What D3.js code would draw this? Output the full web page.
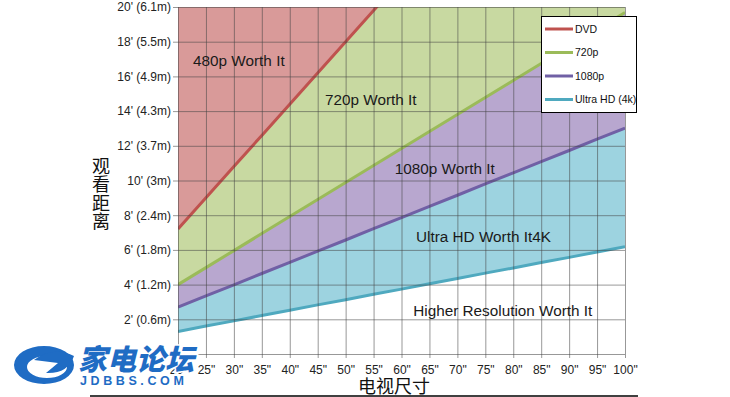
<!DOCTYPE html>
<html>
<head>
<meta charset="utf-8">
<script src="https://cdn.jsdelivr.net/npm/d3@7"></script>
<style>
  html, body { margin: 0; padding: 0; background: #fff; }
  svg { display: block; }
</style>
</head>
<body>
<svg id="chart" width="730" height="397"></svg>
<script>
// screen size (inches) along the bottom
const sizes = [20, 25, 30, 35, 40, 45, 50, 55, 60, 65, 70, 75, 80, 85, 90, 95, 100];
// viewing distance (feet) where each resolution stops being worth it
const dvd = [7.2, 9.0, 10.8, 12.6, 14.4, 16.2, 18.0, 19.8, 21.6, null, null, null, null, null, null, null, null];
const p720 = [4.0, 4.98, 5.96, 6.94, 7.92, 8.9, 9.88, 10.86, 11.84, 12.82, 13.8, 14.78, 15.76, 16.74, 17.72, 18.7, 19.68];
const p1080 = [2.7, 3.35, 3.99, 4.64, 5.28, 5.93, 6.57, 7.22, 7.86, 8.51, 9.15, 9.8, 10.44, 11.09, 11.73, 12.38, 13.02];
const uhd = [1.3, 1.61, 1.91, 2.22, 2.52, 2.83, 3.13, 3.44, 3.74, 4.05, 4.35, 4.66, 4.96, 5.27, 5.57, 5.88, 6.18];

const yTicks = [0, 2, 4, 6, 8, 10, 12, 14, 16, 18, 20];
const yLabels = ["", "2' (0.6m)", "4' (1.2m)", "6' (1.8m)", "8' (2.4m)", "10' (3m)",
  "12' (3.7m)", "14' (4.3m)", "16' (4.9m)", "18' (5.5m)", "20' (6.1m)"];
const legendNames = ["DVD", "720p", "1080p", "Ultra HD (4k)"];

// region captions: [text, inch, feet]
const regionLabels = [
  ["480p Worth It", 22.7, 16.6],
  ["720p Worth It", 46.3, 14.35],
  ["1080p Worth It", 58.8, 10.37],
  ["Ultra HD Worth It4K", 62.6, 6.46],
  ["Higher Resolution Worth It", 62.1, 2.19]
];

const plotL = 178, plotR = 625, plotT = 7, plotB = 354;
const svg = d3.select("#chart");

const x = d3.scaleLinear().domain([20, 100]).range([plotL, plotR]);
const y = d3.scaleLinear().domain([0, 20]).range([plotB, plotT]);

const rows = sizes.map((s, i) => ({
  s, dvd: dvd[i], p720: p720[i], p1080: p1080[i], uhd: uhd[i]
}));

svg.append("defs").append("clipPath").attr("id", "plot")
  .append("rect")
  .attr("x", plotL).attr("y", plotT)
  .attr("width", plotR - plotL).attr("height", plotB - plotT);

const plot = svg.append("g").attr("clip-path", "url(#plot)");

// filled bands, top to bottom
const bands = [
  { lo: "dvd", hi: null, fill: "#d99a99" },
  { lo: "p720", hi: "dvd", fill: "#c8d9a1" },
  { lo: "p1080", hi: "p720", fill: "#b8a7cf" },
  { lo: "uhd", hi: "p1080", fill: "#9dd3e0" }
];
bands.forEach(b => {
  const area = d3.area()
    .x(d => x(d.s))
    .y0(d => y(d[b.lo] == null ? 20 : d[b.lo]))
    .y1(d => y(b.hi == null || d[b.hi] == null ? 20 : d[b.hi]));
  plot.append("path").datum(rows).attr("d", area).attr("fill", b.fill);
});

// grid + y labels (axis drawn from right edge so ticks span the plot)
const yAxis = d3.axisLeft(y)
  .tickValues(yTicks)
  .tickSize(plotR - plotL + 5)
  .tickPadding(2)
  .tickFormat((d, i) => yLabels[i]);
const gy = svg.append("g").attr("transform", `translate(${plotR},0)`).call(yAxis);
gy.select(".domain").remove();
gy.selectAll("line").attr("stroke", "#444").attr("stroke-opacity", 0.55);
gy.selectAll("text")
  .attr("font-family", "'Liberation Sans', Arial, sans-serif")
  .attr("font-size", 12).attr("fill", "#222");

const xAxis = d3.axisBottom(x)
  .tickValues(sizes)
  .tickSize(plotB - plotT + 4)
  .tickPadding(7)
  .tickFormat(d => d + '"');
const gx = svg.append("g").attr("transform", `translate(0,${plotT})`).call(xAxis);
gx.select(".domain").remove();
gx.selectAll("line").attr("stroke", "#444").attr("stroke-opacity", 0.55);
gx.selectAll("text")
  .attr("font-family", "'Liberation Sans', Arial, sans-serif")
  .attr("font-size", 12).attr("fill", "#222");

// boundary lines
const lineDefs = [
  { key: "dvd", color: "#bf524e" },
  { key: "p720", color: "#9bbb59" },
  { key: "p1080", color: "#7060a5" },
  { key: "uhd", color: "#4fa9bf" }
];
lineDefs.forEach(l => {
  const line = d3.line()
    .defined(d => d[l.key] != null)
    .x(d => x(d.s)).y(d => y(d[l.key]));
  plot.append("path").datum(rows).attr("d", line)
    .attr("fill", "none").attr("stroke", l.color).attr("stroke-width", 3);
});

// captions inside the bands
svg.append("g").selectAll("text").data(regionLabels).join("text")
  .attr("x", d => x(d[1])).attr("y", d => y(d[2]))
  .attr("font-family", "'Liberation Sans', Arial, sans-serif")
  .attr("font-size", 15.3).attr("fill", "#1a1a1a")
  .text(d => d[0]);

// legend
const lg = svg.append("g").attr("transform", "translate(541,16)");
lg.append("rect").attr("x", 0.5).attr("y", 0.5).attr("width", 95).attr("height", 96)
  .attr("fill", "#fff").attr("stroke", "#000");
legendNames.forEach((name, i) => {
  const yy = 13 + i * 23.5;
  lg.append("line").attr("x1", 4).attr("x2", 32).attr("y1", yy).attr("y2", yy)
    .attr("stroke", lineDefs[i].color).attr("stroke-width", 3);
  lg.append("text").attr("x", 34).attr("y", yy).attr("dy", "0.35em")
    .attr("font-family", "'Liberation Sans', Arial, sans-serif")
    .attr("font-size", 10.5).attr("fill", "#111").text(name);
});

// axis titles
const cjk = "'Noto Sans CJK SC', sans-serif";
svg.append("text").attr("x", 101).attr("y", 157)
  .attr("writing-mode", "vertical-rl")
  .style("writing-mode", "vertical-rl")
  .attr("letter-spacing", 0.5)
  .attr("font-family", cjk)
  .attr("font-size", 18).attr("fill", "#111").text("观看距离");
svg.append("text").attr("x", 394).attr("y", 393)
  .attr("text-anchor", "middle").attr("font-family", cjk)
  .attr("font-size", 18).attr("fill", "#111").text("电视尺寸");
svg.append("line").attr("x1", 90).attr("x2", 638).attr("y1", 396).attr("y2", 396)
  .attr("stroke", "#000").attr("stroke-width", 1.5);

// watermark
const blue = "#1f6cc4";
const wm = svg.append("g");
wm.append("path")
  .attr("d", "M14,365 a30,19 0 1,0 60,0 a30,19 0 1,0 -60,0 Z M27,367 a20,11 0 1,0 40,0 a20,11 0 1,0 -40,0 Z")
  .attr("fill", blue).attr("fill-rule", "evenodd")
  .attr("stroke", "#fff").attr("stroke-width", 2).attr("paint-order", "stroke");
wm.append("path")
  .attr("d", "M34,360 Q52,346 74,356 Q68,374 46,373 L58,363 Z")
  .attr("fill", blue);
wm.append("text").attr("x", 78).attr("y", 370)
  .attr("font-family", cjk).attr("font-weight", 900).attr("font-style", "italic")
  .attr("font-size", 29).attr("fill", blue)
  .attr("stroke", "#fff").attr("stroke-width", 3).attr("paint-order", "stroke")
  .text("家电论坛");
wm.append("text").attr("x", 80).attr("y", 385)
  .attr("font-family", "'Liberation Sans', Arial, sans-serif").attr("font-weight", "bold")
  .attr("font-size", 12.5).attr("letter-spacing", 3.6).attr("fill", blue)
  .attr("stroke", "#fff").attr("stroke-width", 2).attr("paint-order", "stroke")
  .text("JDBBS.COM");
</script>
</body>
</html>
